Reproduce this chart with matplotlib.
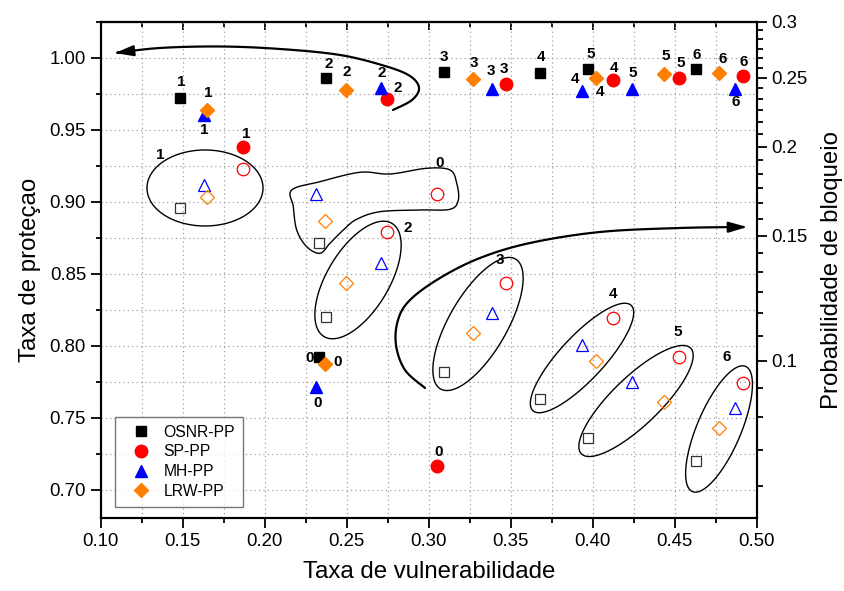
import numpy as np
import matplotlib
matplotlib.use("Agg")
import matplotlib.pyplot as plt
from matplotlib.patches import Polygon, FancyArrowPatch
from matplotlib.path import Path
from matplotlib.ticker import FixedLocator, FixedFormatter, NullFormatter, MultipleLocator

plt.rcParams["font.family"] = ["Liberation Sans", "DejaVu Sans"]

# carga (rotulos 0..6)
loads = [0, 1, 2, 3, 4, 5, 6]

# taxa de vulnerabilidade (eixo x)
vuln_osnr = [0.2333, 0.1484, 0.2372, 0.3095, 0.3679, 0.3973, 0.4628]
vuln_sp = [0.3052, 0.1866, 0.2744, 0.3470, 0.4126, 0.4526, 0.4915]
vuln_mh = [0.2311, 0.1632, 0.2709, 0.3384, 0.3933, 0.4238, 0.4868]
vuln_lrw = [0.2368, 0.1646, 0.2496, 0.3272, 0.4020, 0.4435, 0.4772]

# taxa de protecao (eixo esquerdo, marcadores cheios)
prot_osnr = [0.7924, 0.9723, 0.9861, 0.9900, 0.9896, 0.9919, 0.9924]
prot_sp = [0.7166, 0.9380, 0.9716, 0.9815, 0.9843, 0.9859, 0.9870]
prot_mh = [0.7712, 0.9600, 0.9792, 0.9785, 0.9768, 0.9780, 0.9785]
prot_lrw = [0.7873, 0.9639, 0.9773, 0.9850, 0.9861, 0.9884, 0.9896]

# probabilidade de bloqueio (eixo direito, marcadores vazios)
block_osnr = [0.1463, 0.1639, 0.1151, 0.0965, 0.0884, 0.0778, 0.0723]
block_sp = [0.1715, 0.1861, 0.1519, 0.1288, 0.1147, 0.1013, 0.0931]
block_mh = [0.1715, 0.1768, 0.1371, 0.1166, 0.1053, 0.0934, 0.0857]
block_lrw = [0.1573, 0.1699, 0.1285, 0.1093, 0.0999, 0.0876, 0.0805]

# posicao dos rotulos de carga (pixels, relativo ao marcador)
off_osnr = [(-10, -1), (1, 16), (3, 14), (0, 15), (1, 16), (2, 15), (1, 14)]
off_sp = [(1, 14), (4, 13), (11, 11), (-2, 15), (1, 12), (2, 15), (1, 14)]
off_mh = [(2, -16), (0, -15), (1, 15), (-1, 18), (-7, 12), (1, 16), (1, -13)]
off_lrw = [(13, 2), (2, 17), (1, 18), (1, 16), (4, -14), (2, 18), (3, 14)]

series = [
    ("OSNR-PP", "s", "black", "#333333", 7.9, vuln_osnr, prot_osnr, block_osnr, off_osnr),
    ("SP-PP", "o", "red", "red", 9.0, vuln_sp, prot_sp, block_sp, off_sp),
    ("MH-PP", "^", "blue", "blue", 9.2, vuln_mh, prot_mh, block_mh, off_mh),
    ("LRW-PP", "D", "#FF8000", "#FF8000", 7.4, vuln_lrw, prot_lrw, block_lrw, off_lrw),
]

fig = plt.figure(figsize=(8.44, 5.91), dpi=100)
ax = fig.add_axes([0.1193, 0.1227, 0.8966 - 0.1193, 0.9633 - 0.1227])
ax2 = ax.twinx()

for name, mk, col, ecol, ms, vx, py, by, offs in series:
    ax.plot(vx, py, ls="none", marker=mk, ms=ms, color=col, mec=col, label=name, zorder=3)
    ax2.plot(vx, by, ls="none", marker=mk, ms=ms, mfc="none", mec=ecol, mew=0.9, zorder=3)
    for k, x, y, (dx, dy) in zip(loads, vx, py, offs):
        ax.annotate(str(k), (x, y), xytext=(dx, dy), textcoords="offset pixels",
                    ha="center", va="center", fontsize=11, fontweight="bold", zorder=4)

ax.set_xlim(0.10, 0.50)
ax.set_ylim(0.68, 1.025)
ax.xaxis.set_major_locator(MultipleLocator(0.05))
ax.xaxis.set_minor_locator(MultipleLocator(0.025))
ax.yaxis.set_major_locator(MultipleLocator(0.05))
ax.yaxis.set_minor_locator(MultipleLocator(0.025))
ax.xaxis.set_major_formatter(plt.FormatStrFormatter("%.2f"))
ax.yaxis.set_major_formatter(plt.FormatStrFormatter("%.2f"))
ax.grid(which="both", ls=(0, (1, 2.5)), color="#a0a0a0", lw=0.9)
ax.set_axisbelow(True)
ax.tick_params(which="both", direction="out", labelsize=13.4, width=1.3)
ax.tick_params(which="major", length=7)
ax.tick_params(which="minor", length=3.5)

top = ax.secondary_xaxis("top")
top.xaxis.set_major_locator(MultipleLocator(0.05))
top.xaxis.set_minor_locator(MultipleLocator(0.025))
top.tick_params(which="both", direction="in", labeltop=False, width=1.3)
top.tick_params(which="major", length=6)
top.tick_params(which="minor", length=3.5)

ax2.set_yscale("log")
ax2.set_ylim(0.06, 0.3)
major_r = [0.1, 0.15, 0.2, 0.25, 0.3]
ax2.yaxis.set_major_locator(FixedLocator(major_r))
ax2.yaxis.set_major_formatter(FixedFormatter(["0.1", "0.15", "0.2", "0.25", "0.3"]))
minor_r = [0.05 + i * 0.05 / 6 for i in range(2, 31) if i % 6 != 0]
ax2.yaxis.set_minor_locator(FixedLocator(minor_r))
ax2.yaxis.set_minor_formatter(NullFormatter())
ax2.tick_params(which="both", direction="out", labelsize=13.4, width=1.3)
ax2.tick_params(which="major", length=7)
ax2.tick_params(which="minor", length=4)

for a in (ax, ax2):
    for s in a.spines.values():
        s.set_linewidth(1.5)
top.spines["top"].set_linewidth(1.5)

ax.set_xlabel("Taxa de vulnerabilidade", fontsize=17.3, labelpad=8)
ax.set_ylabel("Taxa de proteçao", fontsize=17.3, labelpad=6)
ax2.set_ylabel("Probabilidade de bloqueio", fontsize=17.3, labelpad=10)

leg = ax.legend(loc="lower left", bbox_to_anchor=(0.0218, 0.0238), borderaxespad=0,
                fontsize=11.3, frameon=True, fancybox=False, edgecolor="#555555",
                handletextpad=0.3, labelspacing=0.3, borderpad=0.5, handlelength=2.3)
leg.get_frame().set_linewidth(1.0)


# --- anotacoes (elipses, contorno e setas), em pixels da imagem ---
def px2ax(px, py):
    return (np.asarray(px) - 100.7) / 656.0, (518.5 - np.asarray(py)) / 496.8


def ellipse_pts(cx, cy, a, b, ang):
    t = np.linspace(0, 2 * np.pi, 200)
    r = np.radians(ang)
    x = cx + a * np.cos(t) * np.cos(r) - b * np.sin(t) * np.sin(r)
    y = cy - (a * np.cos(t) * np.sin(r) + b * np.sin(t) * np.cos(r))
    return np.column_stack(px2ax(x, y))


def smooth(pts, closed=False, n=20):
    p = np.asarray(pts, float)
    if closed:
        p = np.vstack([p[-1], p, p[0], p[1]])
    else:
        p = np.vstack([p[0], p, p[-1]])
    out = []
    t = np.linspace(0, 1, n, endpoint=False)[:, None]
    for i in range(1, len(p) - 2):
        p0, p1, p2, p3 = p[i - 1], p[i], p[i + 1], p[i + 2]
        out.append(0.5 * (2 * p1 + (-p0 + p2) * t + (2 * p0 - 5 * p1 + 4 * p2 - p3) * t ** 2
                          + (-p0 + 3 * p1 - 3 * p2 + p3) * t ** 3))
    out.append(p[-2][None])
    q = np.vstack(out)
    return np.column_stack(px2ax(q[:, 0], q[:, 1]))


ellipses = [
    (205, 188, 58, 38, 0),
    (358, 280, 66, 31, 59),
    (478, 324, 75, 29, 60),
    (582, 358, 72, 22, 47),
    (636, 401, 76, 24, 44),
    (719, 429, 68, 22, 67),
]
for cx, cy, a, b, ang in ellipses:
    ax2.add_patch(Polygon(ellipse_pts(cx, cy, a, b, ang), closed=True, fill=False,
                          ec="black", lw=1.0, transform=ax2.transAxes, zorder=2))

blob = [(291.7, 190), (320, 181.7), (360, 172.3), (390, 174), (426.7, 168.3), (450, 170),
        (456.7, 183.3), (458.3, 200), (450, 209.3), (420, 210), (380, 211.7), (356.7, 219.3),
        (343.3, 230), (330, 243.3), (320, 253.3), (306.7, 246.7), (296.7, 230), (293.3, 206.7)]
ax2.add_patch(Polygon(smooth(blob, closed=True), closed=True, fill=False, ec="black",
                      lw=1.0, transform=ax2.transAxes, zorder=2))

group_labels = [("1", 160, 155), ("0", 440, 163), ("2", 408, 228), ("3", 500, 260),
                ("4", 613, 294), ("5", 678, 332), ("6", 727, 357)]
for txt, px, py in group_labels:
    fx, fy = px2ax(px, py)
    ax2.text(fx, fy, txt, transform=ax2.transAxes, ha="center", va="center",
             fontsize=11, fontweight="bold")

arrow_top = [(393, 110), (412, 100), (419, 88), (410, 76), (385, 66), (340, 55),
             (280, 49), (220, 46.5), (160, 48), (115, 53)]
arrow_bot = [(425, 388), (405, 370), (396, 345), (398, 320), (410, 300), (440, 278),
             (480, 258), (530, 243), (600, 232), (680, 228), (747, 227)]
for pts in (arrow_top, arrow_bot):
    ax2.add_patch(FancyArrowPatch(path=Path(smooth(pts, n=12)), transform=ax2.transAxes,
                                  arrowstyle="-|>,head_length=0.55,head_width=0.16",
                                  mutation_scale=20, lw=1.6, color="black", zorder=2))

fig.savefig("out.png", dpi=100)
